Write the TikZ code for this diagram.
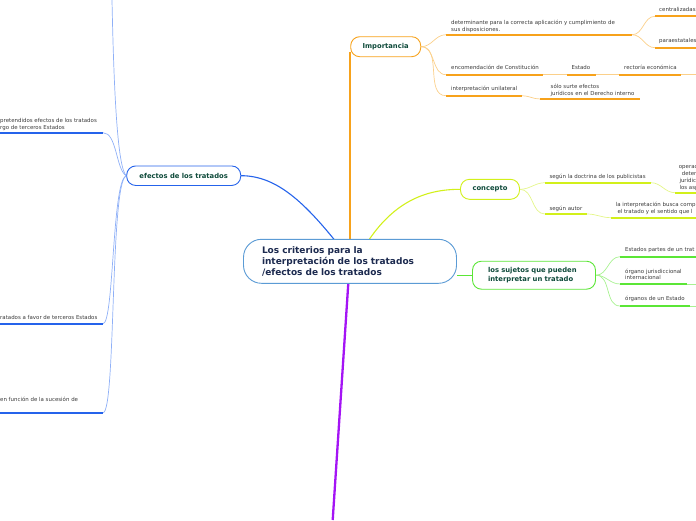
\documentclass[tikz,border=0pt]{standalone}
\usepackage{fontspec}
\setmainfont{DejaVu Sans}
\usetikzlibrary{backgrounds}
\definecolor{rootblue}{HTML}{5B9BD5}
\definecolor{navy}{HTML}{1C2A4F}
\definecolor{dkgreen}{HTML}{0E4A3A}
\definecolor{orgA}{HTML}{F7A21B}
\definecolor{orgL}{HTML}{FBD08A}
\definecolor{yelA}{HTML}{D2F01A}
\definecolor{yelL}{HTML}{E4F68A}
\definecolor{grnA}{HTML}{5BE636}
\definecolor{grnL}{HTML}{A8F291}
\definecolor{bluA}{HTML}{2563EB}
\definecolor{bluL}{HTML}{8FB0F7}
\definecolor{purA}{HTML}{A414F5}
\definecolor{txt}{HTML}{3A3A3A}
\tikzset{
  topic/.style={draw, line width=0.9pt, rounded corners=9pt, fill=white,
    font=\bfseries\fontsize{6.8}{8.3}\selectfont, text=dkgreen, inner sep=0pt},
  lab/.style={font=\fontsize{5.45}{7}\selectfont, text=txt, inner sep=0pt, align=left, anchor=base west},
  uline/.style={line width=1.8pt},
  conn/.style={line width=0.7pt},
}
\begin{document}
\begin{tikzpicture}[x=1pt,y=-1pt]
\useasboundingbox (0,0) rectangle (696,520);
\clip (0,0) rectangle (696,520);

% ---------- topic nodes ----------
\node[topic, draw=rootblue, minimum width=213pt, minimum height=44pt, rounded corners=18pt,
      text width=176pt, align=left, font=\bfseries\fontsize{9}{11}\selectfont, text=navy]
  (root) at (350,261.3) {Los criterios para la\\interpretación de los tratados\\/efectos de los tratados};
\node[topic, draw=orgA, minimum width=70pt, minimum height=20pt] (imp) at (385.7,46.7) {Importancia};
\node[topic, draw=yelA, minimum width=59pt, minimum height=20pt] (con) at (490,189.3) {concepto};
\node[topic, draw=grnA, minimum width=123pt, minimum height=28pt, text width=92pt, align=left]
  (suj) at (534,275.2) {los sujetos que pueden\\interpretar un tratado};
\node[topic, draw=bluA, minimum width=114pt, minimum height=19.5pt] (efe) at (183.7,175.7) {efectos de los tratados};

% ---------- coordinates ----------
\coordinate (d1) at (446,34.7);  \coordinate (d2) at (632,34.7);
\coordinate (c1) at (655,16.3);  \coordinate (c2) at (696,16.3);
\coordinate (p1) at (655,47.7);  \coordinate (p2) at (696,47.7);
\coordinate (e1) at (446,74.7);  \coordinate (e2) at (543,74.7);
\coordinate (s1) at (567,74.7);  \coordinate (s2) at (596,74.7);
\coordinate (r1) at (619,74.7);  \coordinate (r2) at (681,74.7); \coordinate (r3) at (696,74.7);
\coordinate (u1) at (446,95.7);  \coordinate (u2) at (522,95.7);
\coordinate (j1) at (540,99);    \coordinate (j2) at (640,99);
\coordinate (g1) at (545,182.7); \coordinate (g2) at (651,182.7);
\coordinate (o1) at (675,192.7); \coordinate (o2) at (696,192.7);
\coordinate (a1) at (545,214);   \coordinate (a2) at (587,214);
\coordinate (i1) at (611,217.7); \coordinate (i2) at (696,217.7);
\coordinate (ep1) at (620,256.7); \coordinate (ep2) at (696,256.7);
\coordinate (oj1) at (620,284);  \coordinate (oj2) at (687,284); \coordinate (oj3) at (696,284);
\coordinate (oe1) at (620,306);  \coordinate (oe2) at (690,306); \coordinate (oe3) at (696,306);
\coordinate (topoff) at (112,0);
\coordinate (pe1) at (0,132.7);  \coordinate (pe2) at (103,132.7);
\coordinate (af1) at (0,323.7);  \coordinate (af2) at (103,323.7);
\coordinate (su1) at (0,412.7);  \coordinate (su2) at (103,412.7);
\coordinate (rimp) at (350,239.3);
\coordinate (timp) at (350,52);
\coordinate (rcon) at (369.3,239.3);
\coordinate (refe) at (334,239.3);
\coordinate (rpur) at (348.3,283.3);
\coordinate (bpur) at (332.7,520);

% ---------- labels ----------
\node[lab] (tdet) at (451,31.3) {determinante para la correcta aplicación y cumplimiento de\\sus disposiciones.};
\node[lab] (tcen) at (659,11.8) {centralizadas};
\node[lab] (tpar) at (659,42.8) {paraestatales};
\node[lab] (tenc) at (451,69.8) {encomendación de Constitución};
\node[lab] (test) at (571.5,69.8) {Estado};
\node[lab] (trec) at (624,69.8) {rectoría económica};
\node[lab] (tuni) at (451,90.8) {interpretación unilateral};
\node[lab] (tsol) at (550.5,95) {sólo surte efectos\\jurídicos en el Derecho interno};
\node[lab] (tdoc) at (549.3,178.5) {según la doctrina de los publicistas};
\node[lab] (tope) at (678.7,189.5) {operac\\\hspace{3pt}deter\\\hspace{0.6pt}jurídic\\\hspace{0.6pt}los asp};
\node[lab] (taut) at (549.3,210.1) {según autor};
\node[lab] (tint) at (615.7,213.5) {la interpretación busca comp\\\hspace{1.6pt}el tratado y el sentido que l};
\node[lab] (tepa) at (625,251.8) {Estados partes de un trat};
\node[lab, font=\fontsize{5.45}{6.2}\selectfont] (torj) at (625,279.6) {órgano jurisdiccional\\internacional};
\node[lab] (tore) at (625,300.8) {órganos de un Estado};
\node[lab] (tpre) at (0,129.1) {pretendidos efectos de los tratados\\rgo de terceros Estados};
\node[lab] (tfav) at (0,319.5) {ratados a favor de terceros Estados};
\node[lab] (tsuc) at (0,401.1) {en función de la sucesión de};

% ---------- connectors ----------
\begin{scope}[on background layer]
% root branches
\draw[orgA, line width=1.4pt] (rimp) -- (timp);
\draw[yelA, line width=1.1pt] (rcon) .. controls (395,202) and (425,189.3) .. (con.west);
\draw[grnA, line width=1.1pt] (root.east |- suj.west) -- (suj.west);
\draw[bluA, line width=1.1pt] (refe) .. controls (302,200) and (275,175.7) .. (efe.east);
\draw[purA, line width=2.3pt] (rpur) -- (bpur);

% importancia
\draw[conn, orgL] (imp.east) to[out=0,in=180] (d1);
\draw[conn, orgL] (imp.east) to[out=0,in=180] (e1);
\draw[conn, orgL] (imp.east) to[out=0,in=180] (u1);
\draw[uline, orgA] (d1) -- (d2);
\draw[conn, orgL] (d2) to[out=0,in=180] (c1);
\draw[conn, orgL] (d2) to[out=0,in=180] (p1);
\draw[uline, orgA] (c1) -- (c2);
\draw[uline, orgA] (p1) -- (p2);
\draw[uline, orgA] (e1) -- (e2);
\draw[conn, orgL] (e2) -- (s1);
\draw[uline, orgA] (s1) -- (s2);
\draw[conn, orgL] (s2) -- (r1);
\draw[uline, orgA] (r1) -- (r2);
\draw[conn, orgL] (r2) -- (r3);
\draw[uline, orgA] (u1) -- (u2);
\draw[conn, orgL] (u2) to[out=0,in=180] (j1);
\draw[uline, orgA] (j1) -- (j2);

% concepto
\draw[conn, yelL] (con.east) to[out=0,in=180] (g1);
\draw[conn, yelL] (con.east) to[out=0,in=180] (a1);
\draw[uline, yelA] (g1) -- (g2);
\draw[conn, yelL] (g2) to[out=0,in=180] (o1);
\draw[uline, yelA] (o1) -- (o2);
\draw[uline, yelA] (a1) -- (a2);
\draw[conn, yelL] (a2) to[out=0,in=180] (i1);
\draw[uline, yelA] (i1) -- (i2);

% sujetos
\draw[conn, grnL] (suj.east) to[out=0,in=180] (ep1);
\draw[conn, grnL] (suj.east) to[out=0,in=180] (oj1);
\draw[conn, grnL] (suj.east) to[out=0,in=180] (oe1);
\draw[uline, grnA] (ep1) -- (ep2);
\draw[uline, grnA] (oj1) -- (oj2);
\draw[conn, grnL] (oj2) -- (oj3);
\draw[uline, grnA] (oe1) -- (oe2);
\draw[conn, grnL] (oe2) -- (oe3);

% efectos
\draw[conn, bluL] (efe.west) .. controls (118,168) and (114,100) .. (topoff);
\draw[conn, bluL] (efe.west) .. controls (116,170) and (117,132.7) .. (pe2);
\draw[conn, bluL] (efe.west) .. controls (112,180) and (114,323.7) .. (af2);
\draw[conn, bluL] (efe.west) .. controls (110,182) and (116,412.7) .. (su2);
\draw[uline, bluA] (pe1) -- (pe2);
\draw[uline, bluA] (af1) -- (af2);
\draw[uline, bluA] (su1) -- (su2);
\end{scope}
\end{tikzpicture}
\end{document}
